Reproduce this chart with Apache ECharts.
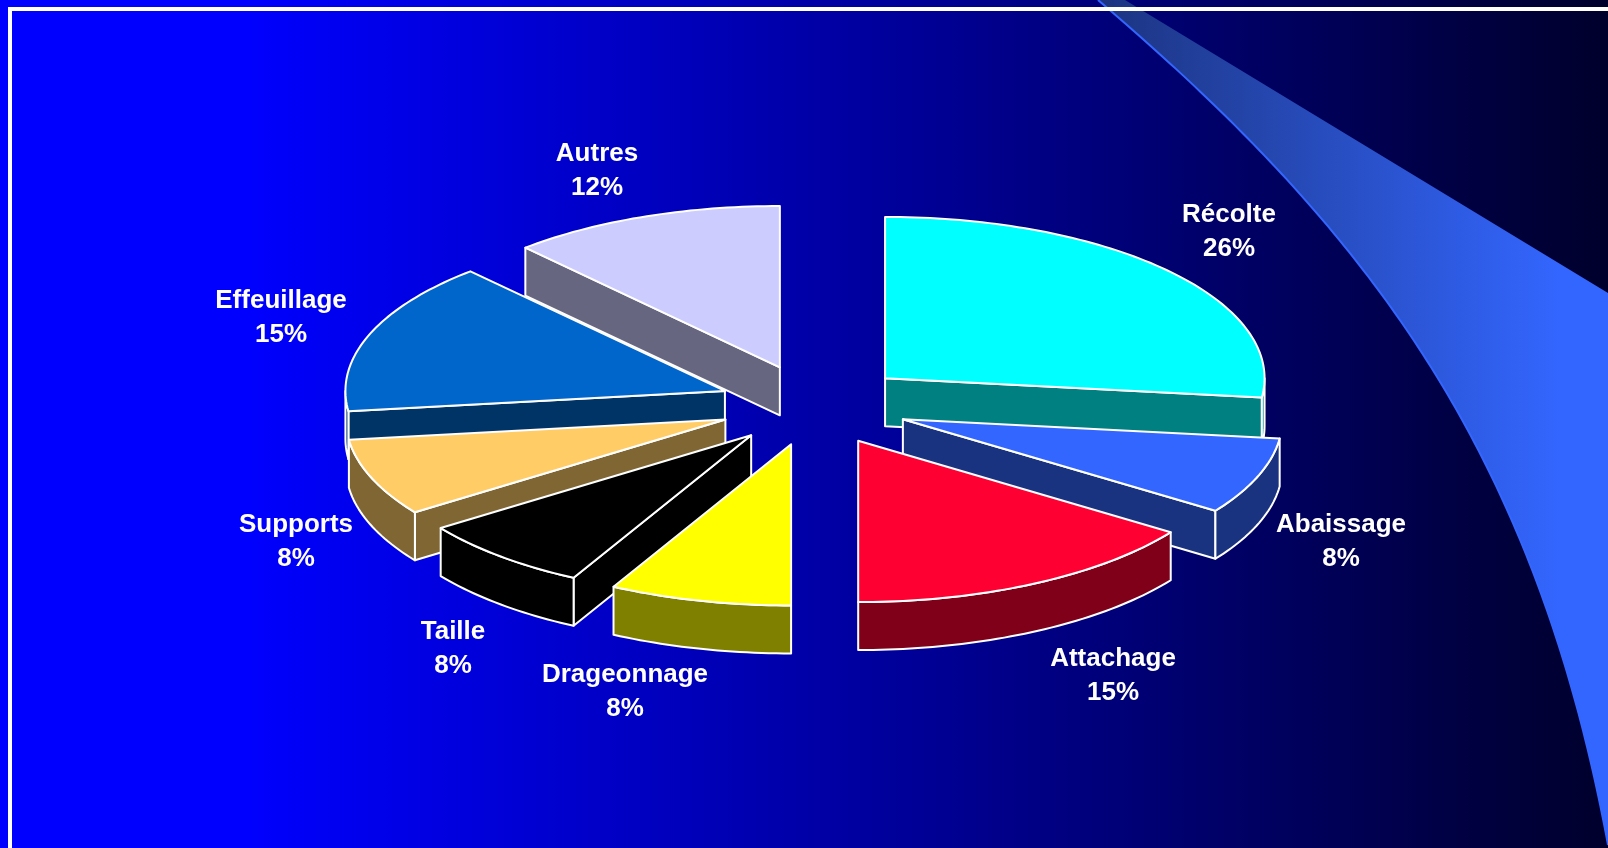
<!DOCTYPE html>
<html lang="fr">
<head>
  <meta charset="UTF-8">
  <title>Répartition des tâches</title>
  <style>
    html, body { margin: 0; padding: 0; background: #000033; overflow: hidden; }
    #main { width: 1608px; height: 848px; }
  </style>
</head>
<body>
<div id="main"></div>
<script src="https://fastly.jsdelivr.net/npm/echarts@6/dist/echarts.min.js"></script>
<script>
  // data (shares follow the drawn angles, labels are the printed ones)
  var categories = ['Récolte', 'Abaissage', 'Attachage', 'Drageonnage', 'Taille', 'Supports', 'Effeuillage', 'Autres'];
  var sliceShares = [26.9, 7.7, 15.4, 7.75, 7.5, 7.75, 15.3, 11.7];
  var percentLabels = [26, 8, 15, 8, 8, 8, 15, 12];

  var topColors = ['#00ffff', '#3366ff', '#ff0033', '#ffff00', '#000000', '#ffcc66', '#0066cc', '#ccccff'];
  var sideColors = ['#008080', '#1a3380', '#800019', '#808000', '#000000', '#806633', '#003366', '#666680'];
  // label centres in page pixels
  var labelAnchors = [[1229, 232], [1341, 542], [1113, 676], [625, 692], [453, 649], [296, 542], [281, 318], [597, 171]];

  // fake 3d projection of the exploded pie
  var CX = 814, CY = 405, RADIUS = 379.5, TILT = 0.425, EXPLODE = 95, DEPTH = 48;

  var total = sliceShares.reduce(function (a, b) { return a + b; }, 0);
  var acc = 0;
  var rows = sliceShares.map(function (v, i) {
    var start = acc / total * Math.PI * 2;
    acc += v;
    return [start, acc / total * Math.PI * 2, i];
  });
  // back slices first
  var paintOrder = rows.slice().sort(function (a, b) {
    return Math.cos((b[0] + b[1]) / 2) - Math.cos((a[0] + a[1]) / 2);
  }).map(function (r) { return r[2]; });

  function arcPoints(ax, ay, from, to, drop) {
    var pts = [];
    var n = Math.max(2, Math.ceil((to - from) / 0.02));
    for (var k = 0; k <= n; k++) {
      var t = from + (to - from) * k / n;
      pts.push([ax + RADIUS * Math.sin(t), ay - RADIUS * TILT * Math.cos(t) + drop]);
    }
    return pts;
  }

  function renderSlice(params, api) {
    var start = api.value(0), end = api.value(1), i = api.value(2);
    var mid = (start + end) / 2;
    var ax = CX + EXPLODE * Math.sin(mid);
    var ay = CY - EXPLODE * TILT * Math.cos(mid);
    var rank = paintOrder.indexOf(i) * 10;
    var line = { stroke: '#ffffff', lineWidth: 2, lineJoin: 'round' };

    function poly(points, fill, z2) {
      return { type: 'polygon', z2: z2, shape: { points: points }, style: Object.assign({ fill: fill }, line) };
    }
    function wall(angle) {
      var p = arcPoints(ax, ay, angle, angle, 0)[0];
      return poly([[ax, ay], p, [p[0], p[1] + DEPTH], [ax, ay + DEPTH]], sideColors[i], rank + 1);
    }

    var children = [];
    // radial walls only show when they face the viewer
    if (Math.sin(end) > 0.001) children.push(wall(end));
    if (Math.sin(start) < -0.001) children.push(wall(start));
    // outer rim, lower half of the ellipse only
    var rimFrom = Math.max(start, Math.PI / 2), rimTo = Math.min(end, Math.PI * 1.5);
    if (rimTo > rimFrom) {
      var upper = arcPoints(ax, ay, rimFrom, rimTo, 0);
      var lower = arcPoints(ax, ay, rimFrom, rimTo, DEPTH).reverse();
      children.push(poly(upper.concat(lower), sideColors[i], rank + 2));
    }
    children.push(poly([[ax, ay]].concat(arcPoints(ax, ay, start, end, 0)), topColors[i], rank + 3));
    children.push({
      type: 'text',
      z2: 200,
      style: {
        text: categories[i] + '\n' + percentLabels[i] + '%',
        x: labelAnchors[i][0],
        y: labelAnchors[i][1],
        fill: '#ffffff',
        font: 'bold 26px "Liberation Sans", Arial, sans-serif',
        lineHeight: 34,
        align: 'center',
        verticalAlign: 'middle'
      }
    });
    return { type: 'group', children: children };
  }

  // left edge of the swoosh, one cubic bezier sampled into points
  var swooshCurve = [[1098, 0], [1368, 230], [1535, 450], [1608, 845]];
  function sampleCurve(c) {
    var out = [];
    for (var k = 0; k <= 120; k++) {
      var t = k / 120, u = 1 - t;
      out.push([0, 1].map(function (a) {
        return u * u * u * c[0][a] + 3 * u * u * t * c[1][a] + 3 * u * t * t * c[2][a] + t * t * t * c[3][a];
      }));
    }
    return out;
  }

  var myChart = echarts.init(document.getElementById('main'));
  var edgeLine = sampleCurve(swooshCurve);

  var option = {
    animation: false,
    backgroundColor: new echarts.graphic.LinearGradient(0, 0, 1, 0, [
      { offset: 0, color: '#0000ff' },
      { offset: 0.15, color: '#0000ff' },
      { offset: 1, color: '#00002c' }
    ]),
    graphic: [
      {
        type: 'polygon',
        z: 0,
        shape: { points: edgeLine.concat([[1608, 293], [1125, 0]]) },
        style: {
          fill: new echarts.graphic.LinearGradient(1100, 0, 1560, 0, [
            { offset: 0, color: '#1c3480' },
            { offset: 1, color: '#3366ff' }
          ], true)
        }
      },
      {
        type: 'polyline',
        z: 1,
        shape: { points: edgeLine },
        style: { fill: null, stroke: '#3366ff', lineWidth: 2 }
      },
      {
        type: 'rect',
        z: 1,
        shape: { x: 10, y: 9, width: 1700, height: 1000 },
        style: { fill: null, stroke: '#ffffff', lineWidth: 4 }
      }
    ],
    series: [{
      type: 'custom',
      coordinateSystem: 'none',
      renderItem: renderSlice,
      silent: true,
      data: rows
    }]
  };

  myChart.setOption(option);
</script>
</body>
</html>
